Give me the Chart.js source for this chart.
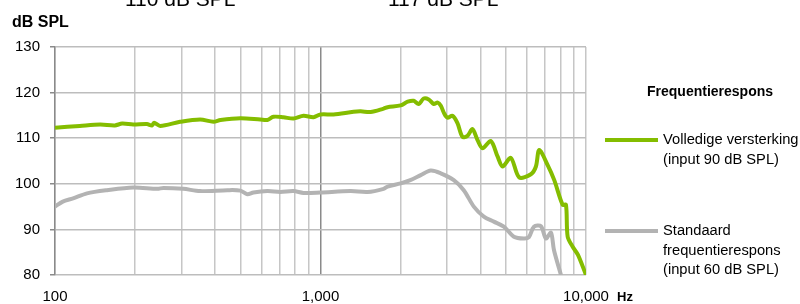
<!DOCTYPE html>
<html>
<head>
<meta charset="utf-8">
<script src="https://cdn.jsdelivr.net/npm/chart.js@4.4.1/dist/chart.umd.min.js"></script>
<style>
html,body{margin:0;padding:0;background:#fff;}
#wrap{position:relative;width:800px;height:304px;}
</style>
</head>
<body>
<div id="wrap"><canvas id="c" width="800" height="304"></canvas></div>
<script>
// ---- data ----
const xTickValues = [100,200,300,400,500,600,700,800,900,1000,2000,3000,4000,5000,6000,7000,8000,9000,10000];
const xTickLabels = {100:'100', 1000:'1,000', 10000:'10,000'};
const yTickValues = [80,90,100,110,120,130];

const greenFreq  = [100,124,148,168,179,197,222,232,236,249,296,352,395,420,499,594,631,665,725,791,863,941,1000,1119,1332,1416,1544,1729,1789,2004,2130,2244,2343,2447,2556,2670,2764,2840,2919,3006,3141,3280,3425,3577,3736,3903,4076,4380,4644,4850,5212,5602,6201,6477,6667,7171,7594,8166,8405,8530,8908,9328,10000];
const greenLevel = [112.3,112.7,113.0,112.8,113.2,113.0,113.1,112.8,113.4,112.7,113.6,114.1,113.6,114.0,114.4,114.1,114.0,114.7,114.6,114.3,114.9,114.6,115.2,115.2,115.8,115.9,115.75,116.5,116.8,117.2,118.0,118.2,117.5,118.7,118.5,117.5,117.8,117.1,115.5,114.5,114.9,113.3,110.3,110.5,112.0,109.6,107.8,109.4,106.0,103.8,105.7,101.4,102.1,103.8,107.4,104.1,100.8,95.4,95.4,88.4,86.2,84.4,80.0];

const grayFreq  = [100,107,117,132,157,197,243,256,304,352,446,499,530,559,631,706,791,863,1000,1298,1504,1729,1789,2004,2178,2385,2601,2837,3177,3464,3780,4122,4497,4904,5350,5834,6094,6366,6766,7063,7379,7573,8048];
const grayLevel = [95.0,96.1,96.8,97.9,98.6,99.2,98.9,99.1,98.9,98.4,98.6,98.5,97.7,98.1,98.4,98.2,98.4,98.0,98.1,98.4,98.2,98.9,99.4,100.1,100.8,101.9,102.9,102.3,100.8,98.6,95.0,92.8,91.7,90.6,88.4,88.0,88.3,90.6,90.7,88.0,89.3,85.5,80.0];

const seriesNames = ['Volledige versterking (input 90 dB SPL)', 'Standaard frequentierespons (input 60 dB SPL)'];
const legendTitle = 'Frequentierespons';
const legendLines = [['Volledige versterking','(input 90 dB SPL)'],['Standaard','frequentierespons','(input 60 dB SPL)']];
const yTitle = 'dB SPL';
const xUnit = 'Hz';
const topNotes = ['110 dB SPL','117 dB SPL'];

const GREEN = '#84bd00';
const GRAY = '#b3b3b3';

function pts(xs, ys){ return xs.map((x,i)=>({x:x, y:ys[i]})); }

const extras = {
  id:'extras',
  afterDraw(chart){
    const ctx = chart.ctx;
    ctx.save();
    ctx.fillStyle = '#000';
    // cropped notes at top
    ctx.font = '21px "Liberation Sans", Arial, sans-serif';
    ctx.textBaseline = 'alphabetic';
    ctx.textAlign = 'left';
    ctx.fillText(topNotes[0], 125, 6);
    ctx.fillText(topNotes[1], 388, 6);
    // axis titles
    ctx.font = 'bold 16px "Liberation Sans", Arial, sans-serif';
    ctx.textBaseline = 'middle';
    ctx.fillText(yTitle, 12, 23);
    ctx.font = 'bold 13px "Liberation Sans", Arial, sans-serif';
    ctx.fillText(xUnit, 617, 297);
    // legend
    ctx.font = 'bold 14px "Liberation Sans", Arial, sans-serif';
    ctx.fillText(legendTitle, 647, 92);
    ctx.font = '14.7px "Liberation Sans", Arial, sans-serif';
    const blocks = [{y:140, color:GREEN, lines:legendLines[0]},{y:231, color:GRAY, lines:legendLines[1]}];
    blocks.forEach(b=>{
      ctx.strokeStyle = b.color; ctx.lineWidth = 4; ctx.lineCap='butt';
      ctx.beginPath(); ctx.moveTo(605,b.y); ctx.lineTo(658,b.y); ctx.stroke();
      b.lines.forEach((t,i)=>{ ctx.fillText(t, 663, b.y + i*19.5); });
    });
    ctx.restore();
  }
};

new Chart(document.getElementById('c'), {
  type:'line',
  data:{
    datasets:[
      {label:seriesNames[1], data:pts(grayFreq, grayLevel), borderColor:GRAY, borderWidth:4, pointRadius:0, tension:0.3, fill:false},
      {label:seriesNames[0], data:pts(greenFreq, greenLevel), borderColor:GREEN, borderWidth:4, pointRadius:0, tension:0.3, fill:false}
    ]
  },
  options:{
    responsive:false,
    animation:false,
    devicePixelRatio:1,
    layout:{padding:{left:0, top:47, right:214, bottom:0}},
    plugins:{legend:{display:false}, tooltip:{enabled:false}},
    scales:{
      x:{
        type:'logarithmic', min:100, max:10000,
        afterBuildTicks(s){ s.ticks = xTickValues.map(v=>({value:v})); },
        afterFit(s){ s.height = 29; },
        ticks:{autoSkip:false, maxRotation:0, padding:13, color:'#000',
          font:{family:'"Liberation Sans", Arial, sans-serif', size:15},
          callback(v){ return xTickLabels[v] || ''; }},
        grid:{drawTicks:false, lineWidth:1.5,
          color(c){ const v=c.tick && c.tick.value; return (v===1000) ? '#8a8a8a' : '#c6c6c6'; }},
        border:{display:false}
      },
      y:{
        min:80, max:130,
        afterBuildTicks(s){ s.ticks = yTickValues.map(v=>({value:v})); },
        afterFit(s){ s.width = 55; },
        ticks:{padding:10, color:'#000', font:{family:'"Liberation Sans", Arial, sans-serif', size:15}},
        grid:{color:'#bdbdbd', lineWidth:1.5, tickLength:5, tickColor:'#8a8a8a'},
        border:{display:true, color:'#8a8a8a', width:1.5}
      }
    }
  },
  plugins:[extras]
});
</script>
</body>
</html>
